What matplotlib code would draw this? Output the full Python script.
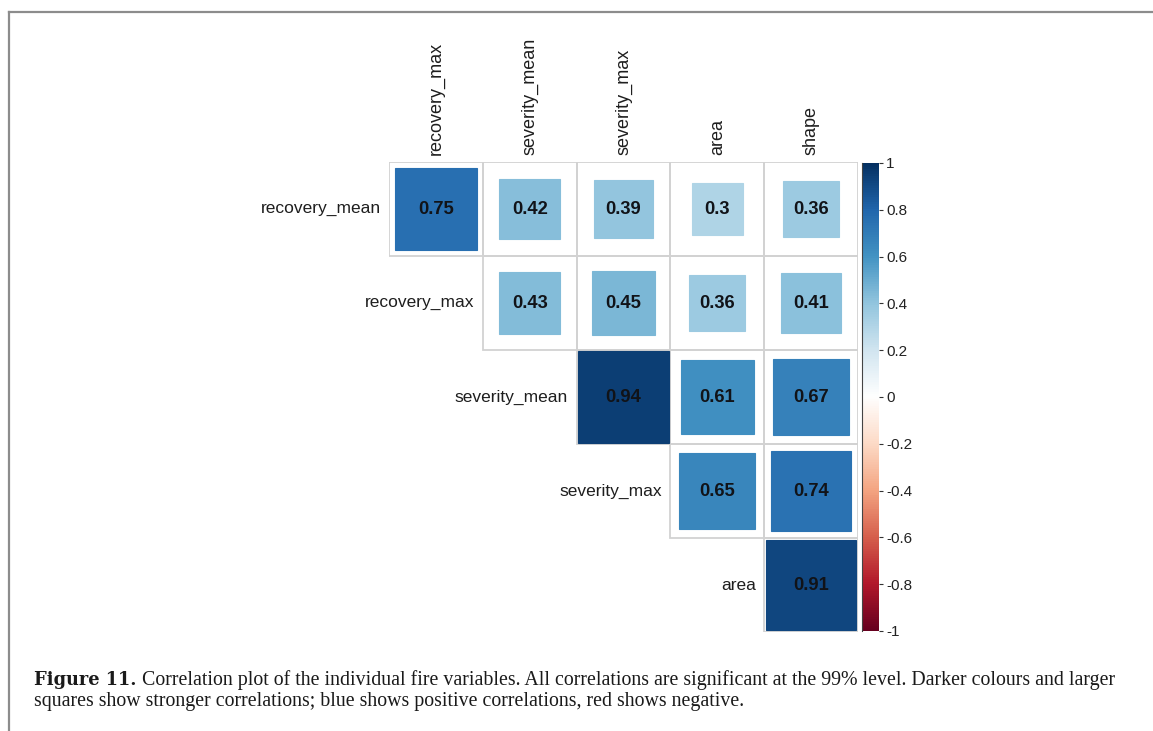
import numpy as np
import matplotlib
matplotlib.use("Agg")
import matplotlib.pyplot as plt
from matplotlib.patches import Rectangle
from matplotlib.lines import Line2D
from matplotlib.colors import LinearSegmentedColormap, Normalize

# Fire variables and their upper-triangle correlations
row_labels = ["recovery_mean", "recovery_max", "severity_mean", "severity_max", "area"]
col_labels = ["recovery_max", "severity_mean", "severity_max", "area", "shape"]
corr_recovery_mean = [0.75, 0.42, 0.39, 0.30, 0.36]
corr_recovery_max = [0.43, 0.45, 0.36, 0.41]
corr_severity_mean = [0.94, 0.61, 0.67]
corr_severity_max = [0.65, 0.74]
corr_area = [0.91]
corr_rows = [corr_recovery_mean, corr_recovery_max, corr_severity_mean,
             corr_severity_max, corr_area]
cbar_ticks = [-1, -0.8, -0.6, -0.4, -0.2, 0, 0.2, 0.4, 0.6, 0.8, 1]

caption_bold = "Figure 11."
caption_line1 = ("Correlation plot of the individual fire variables. All correlations are "
                 "significant at the 99% level. Darker colours and larger")
caption_line2 = ("squares show stronger correlations; blue shows positive correlations, "
                 "red shows negative.")

W, H = 1153, 731
fig = plt.figure(figsize=(W / 100, H / 100), dpi=100)
fig.patch.set_facecolor("white")

def fx(px):
    return px / W

def fy(py):
    return 1 - py / H

rdbu = ["#67001F", "#B2182B", "#D6604D", "#F4A582", "#FDDBC7", "#FFFFFF",
        "#D1E5F0", "#92C5DE", "#4393C3", "#2166AC", "#053061"]
cmap = LinearSegmentedColormap.from_list("corr_rdbu", rdbu, N=200)
norm = Normalize(-1, 1)

# Correlation grid
gl, gt, gr, gb = 389, 162, 858, 632
ax = fig.add_axes([fx(gl), fy(gb), fx(gr - gl), (gb - gt) / H])
ax.set_xlim(0, 5)
ax.set_ylim(5, 0)
ax.axis("off")

label_color = "#1e1e1e"
for i, vals in enumerate(corr_rows):
    for k, r in enumerate(vals):
        j = i + k
        ax.add_patch(Rectangle((j, i), 1, 1, facecolor="none",
                               edgecolor="#d2d2d2", lw=1.3, zorder=1))
for i, vals in enumerate(corr_rows):
    for k, r in enumerate(vals):
        j = i + k
        s = np.sqrt(abs(r))
        c = cmap(norm(r))
        ax.add_patch(Rectangle((j + 0.5 - s / 2, i + 0.5 - s / 2), s, s,
                               facecolor=c, edgecolor=c, lw=0.8, zorder=2))
        ax.text(j + 0.5, i + 0.5, f"{r:g}", ha="center", va="center",
                family="Liberation Sans", weight="bold", size=13.2,
                color="#111318", zorder=3)
    ax.text(i - 0.09, i + 0.5, row_labels[i], ha="right", va="center",
            clip_on=False, family="Liberation Sans", size=12.5,
            color=label_color)

for j, name in enumerate(col_labels):
    ax.text(j + 0.5, -0.07, name, rotation=90, ha="center", va="bottom",
            clip_on=False, family="Liberation Sans", size=13.0,
            color=label_color)

# Colour legend
cax = fig.add_axes([fx(862), fy(631), fx(17), (631 - 163) / H])
grad = np.linspace(-1, 1, 400).reshape(-1, 1)
cax.imshow(grad, cmap=cmap, norm=norm, aspect="auto", origin="lower",
           extent=[0, 1, -1, 1])
cax.set_xlim(0, 1)
cax.set_ylim(-1, 1)
cax.set_xticks([])
cax.yaxis.tick_right()
cax.set_yticks(cbar_ticks)
cax.set_yticklabels([f"{t:g}" for t in cbar_ticks])
cax.tick_params(axis="y", length=3, width=0.8, pad=2, labelsize=11,
                labelcolor="#222222", color="#333333")
for lab in cax.get_yticklabels():
    lab.set_family("Liberation Sans")
for sp in cax.spines.values():
    sp.set_visible(False)
cax.spines["left"].set_visible(True)
cax.spines["left"].set_color("#444444")
cax.spines["left"].set_linewidth(0.8)

# Page frame
frame = "#8c8c8c"
fig.add_artist(Line2D([fx(9), 1.0], [fy(12), fy(12)], color=frame, lw=1.6,
                      transform=fig.transFigure))
fig.add_artist(Line2D([fx(9), fx(9)], [fy(12), 0.0], color=frame, lw=1.6,
                      transform=fig.transFigure))

# Caption
cap_color = "#1a1a1a"
fig.canvas.draw()
renderer = fig.canvas.get_renderer()
t_bold = fig.text(fx(34), fy(685), caption_bold, weight="bold", va="baseline",
                  family="DejaVu Serif", size=12.8, color=cap_color)
bb = t_bold.get_window_extent(renderer)
fig.text(fx(bb.x1 + 5), fy(685), caption_line1, va="baseline",
         family="Liberation Serif", size=14.3, color=cap_color)
fig.text(fx(34), fy(706), caption_line2, va="baseline",
         family="Liberation Serif", size=14.3, color=cap_color)

fig.savefig("out.png", dpi=100, facecolor="white")
